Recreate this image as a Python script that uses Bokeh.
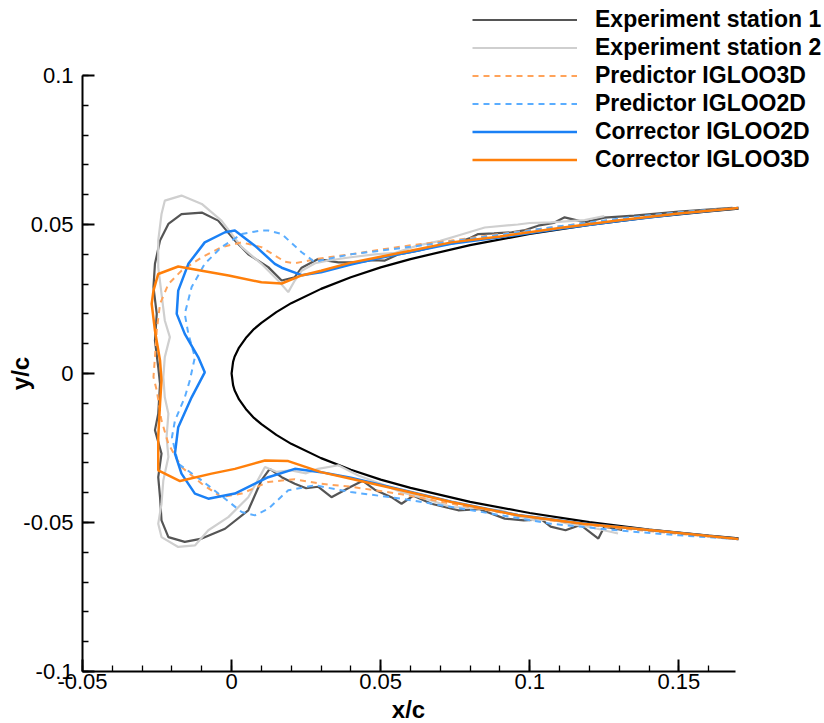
import numpy as np
from bokeh.plotting import figure
from bokeh.models import Range1d, FixedTicker, Legend, LegendItem, Label
from bokeh.embed import file_html
from bokeh.resources import INLINE

# ---------------- data ----------------
AIRFOIL_X = [0.17, 0.16, 0.14, 0.12, 0.10, 0.08, 0.06, 0.05, 0.04, 0.03, 0.02, 0.015, 0.01, 0.0075,
             0.005, 0.0025, 0.001, 0.0005, 0.0,
             0.0005, 0.001, 0.0025, 0.005, 0.0075, 0.01, 0.015, 0.02, 0.03, 0.04, 0.05, 0.06, 0.08,
             0.10, 0.12, 0.14, 0.16, 0.17]
AIRFOIL_Y = [0.0553, 0.0544, 0.0524, 0.0499, 0.0468, 0.0431, 0.0384, 0.0356, 0.0323, 0.0284, 0.0236,
             0.0206, 0.0170, 0.0149, 0.0122, 0.0087, 0.0056, 0.0039, 0.0,
             -0.0039, -0.0056, -0.0087, -0.0122, -0.0149, -0.0170, -0.0206, -0.0236, -0.0284, -0.0323,
             -0.0356, -0.0384, -0.0431, -0.0468, -0.0499, -0.0524, -0.0544, -0.0553]

EXP1_X = [0.168, 0.15, 0.135, 0.125, 0.1184, 0.1162, 0.1117, 0.108, 0.1028, 0.098, 0.0939, 0.088,
          0.0827, 0.080, 0.076, 0.0693, 0.0626, 0.056, 0.0514, 0.047, 0.0425, 0.0358, 0.029, 0.0235,
          0.0212, 0.0168, 0.0123, 0.0056, 0.0011, -0.0045, -0.010, -0.0168, -0.0212, -0.024, -0.0257,
          -0.0262, -0.0251, -0.0257, -0.0246, -0.024, -0.0246, -0.0257, -0.0235, -0.0246, -0.024,
          -0.0235, -0.0212, -0.0157, -0.010, -0.0022, 0.0056, 0.010, 0.0128, 0.0168, 0.0212, 0.025,
          0.029, 0.0335, 0.040, 0.044, 0.048, 0.0536, 0.057, 0.061, 0.067, 0.076, 0.083, 0.0916,
          0.098, 0.104, 0.107, 0.112, 0.117, 0.123, 0.125, 0.131]
EXP1_Y = [0.0556, 0.0543, 0.0530, 0.0523, 0.0507, 0.0513, 0.0524, 0.0505, 0.0496, 0.0480, 0.0474,
          0.0470, 0.0468, 0.0455, 0.0440, 0.0429, 0.0412, 0.0400, 0.0379, 0.0380, 0.0373, 0.0373,
          0.0384, 0.0355, 0.0323, 0.0312, 0.0357, 0.0400, 0.0446, 0.0513, 0.0540, 0.0535, 0.0502,
          0.0446, 0.0368, 0.0290, 0.0200, 0.0110, 0.0021, -0.0035, -0.0135, -0.0190, -0.0269,
          -0.0348, -0.0415, -0.0493, -0.0549, -0.0565, -0.0554, -0.0521, -0.0459, -0.0359, -0.0320,
          -0.0348, -0.0370, -0.0385, -0.0380, -0.0415, -0.0380, -0.0360, -0.0390, -0.0415, -0.0437,
          -0.0410, -0.0437, -0.0459, -0.0455, -0.0487, -0.0493, -0.0490, -0.0514, -0.0526, -0.0508,
          -0.0554, -0.0514, -0.0525]

EXP2_X = [0.125, 0.1184, 0.107, 0.100, 0.096, 0.0849, 0.076, 0.070, 0.0626, 0.055, 0.048, 0.040,
          0.033, 0.028, 0.0235, 0.0212, 0.019, 0.0156, 0.010, 0.0034, -0.0034, -0.010, -0.0168,
          -0.0224, -0.0235, -0.0246, -0.0246, -0.0235, -0.0224, -0.0207, -0.0224, -0.0229, -0.0224,
          -0.0212, -0.0218, -0.0212, -0.0229, -0.0235, -0.0246, -0.0235, -0.0179, -0.0123, -0.0078,
          -0.0011, 0.0056, 0.010, 0.0112, 0.015, 0.020, 0.025, 0.029, 0.0358, 0.0425, 0.050, 0.057,
          0.065, 0.0737, 0.082, 0.0905, 0.096, 0.1017, 0.107, 0.1128, 0.120, 0.1296]
EXP2_Y = [0.0528, 0.0515, 0.0507, 0.0505, 0.0500, 0.0490, 0.0463, 0.0445, 0.0430, 0.0405, 0.0400,
          0.0390, 0.0380, 0.0370, 0.0345, 0.0312, 0.0273, 0.0312, 0.0368, 0.0424, 0.0513, 0.0569,
          0.0597, 0.0580, 0.0535, 0.0446, 0.0357, 0.0267, 0.0178, 0.0122, 0.0055, -0.0012, -0.0080,
          -0.0135, -0.0214, -0.0280, -0.0359, -0.0437, -0.0504, -0.0549, -0.0582, -0.0577, -0.0526,
          -0.0482, -0.0415, -0.0336, -0.0314, -0.0330, -0.0325, -0.0335, -0.0320, -0.0308, -0.0342,
          -0.0370, -0.0398, -0.0420, -0.0448, -0.0452, -0.0459, -0.0480, -0.0493, -0.0490, -0.0504,
          -0.0515, -0.0537]

PRED3D_X = [0.17, 0.15, 0.13, 0.107, 0.09, 0.0737, 0.06, 0.0514, 0.04, 0.029, 0.0212, 0.0179, 0.010,
            0.0034, -0.0034, -0.010, -0.0168, -0.0212, -0.024, -0.0251, -0.0257, -0.0262, -0.0251,
            -0.0235, -0.0212, -0.0168, -0.010, -0.0034, 0.0034, 0.0123, 0.0212, 0.030, 0.040, 0.057,
            0.0737, 0.09, 0.107, 0.13, 0.15, 0.17]
PRED3D_Y = [0.0556, 0.0540, 0.0518, 0.0490, 0.0468, 0.0446, 0.0430, 0.0418, 0.0400, 0.0385, 0.0370,
            0.0375, 0.0424, 0.0440, 0.0424, 0.0390, 0.0345, 0.0300, 0.0234, 0.0144, 0.0055, -0.0012,
            -0.0057, -0.0158, -0.0236, -0.0314, -0.0370, -0.0415, -0.0403, -0.0364, -0.0355, -0.0370,
            -0.0380, -0.0405, -0.0437, -0.0466, -0.0493, -0.0520, -0.0538, -0.0556]

PRED2D_X = [0.17, 0.15, 0.13, 0.107, 0.09, 0.0737, 0.06, 0.040, 0.030, 0.028, 0.0235, 0.0168, 0.0123,
            0.010, 0.0034, -0.0034, -0.009, -0.0134, -0.0157, -0.0145, -0.0123, -0.014, -0.0157,
            -0.019, -0.020, -0.0179, -0.010, -0.0022, 0.0034, 0.0078, 0.0123, 0.019, 0.028, 0.040,
            0.057, 0.0737, 0.09, 0.107, 0.13, 0.15, 0.17]
PRED2D_Y = [0.0556, 0.0541, 0.0520, 0.0490, 0.0466, 0.0443, 0.0425, 0.0400, 0.0380, 0.0373, 0.0407,
            0.0468, 0.0480, 0.0480, 0.0468, 0.0424, 0.0368, 0.0290, 0.0200, 0.0133, 0.0055, -0.0023,
            -0.0080, -0.0158, -0.0214, -0.0303, -0.0359, -0.0420, -0.0465, -0.0476, -0.0454, -0.0392,
            -0.0375, -0.0398, -0.0420, -0.0448, -0.0475, -0.0504, -0.0527, -0.0543, -0.0556]

CORR2D_X = [0.17, 0.15, 0.13, 0.11, 0.09, 0.0737, 0.06, 0.05, 0.04, 0.03, 0.0235, 0.0168, 0.0145,
            0.0078, 0.0011, -0.0022, -0.009, -0.0145, -0.0179, -0.0184, -0.0157, -0.0112, -0.009,
            -0.0134, -0.0179, -0.019, -0.0168, -0.0123, -0.0078, 0.0011, 0.0123, 0.0212, 0.030, 0.040,
            0.057, 0.0737, 0.096, 0.118, 0.141, 0.17]
CORR2D_Y = [0.0555, 0.0535, 0.0512, 0.0486, 0.0457, 0.0435, 0.0408, 0.0388, 0.0366, 0.0340, 0.0330,
            0.0355, 0.0368, 0.0429, 0.0480, 0.0474, 0.0440, 0.0368, 0.0278, 0.0200, 0.0133, 0.0055,
            0.0004, -0.0080, -0.0180, -0.0269, -0.0336, -0.0403, -0.0420, -0.0403, -0.0348, -0.0320,
            -0.0331, -0.0350, -0.0390, -0.0430, -0.0475, -0.0503, -0.0526, -0.0555]

CORR3D_X = [0.17, 0.15, 0.13, 0.11, 0.09, 0.0737, 0.06, 0.05, 0.04, 0.03, 0.0235, 0.0168, 0.010,
            -0.001, -0.010, -0.0179, -0.0246, -0.0262, -0.0268, -0.0257, -0.024, -0.0235, -0.024,
            -0.0246, -0.0246, -0.0173, -0.0067, 0.0011, 0.0112, 0.019, 0.030, 0.040, 0.057, 0.0737,
            0.096, 0.118, 0.141, 0.17]
CORR3D_Y = [0.0555, 0.0537, 0.0514, 0.0488, 0.0460, 0.0440, 0.0412, 0.0392, 0.0372, 0.0345, 0.0329,
            0.0302, 0.0306, 0.0329, 0.0345, 0.0359, 0.0334, 0.0278, 0.0234, 0.0144, 0.0044, -0.0023,
            -0.0102, -0.0214, -0.0325, -0.0361, -0.0336, -0.0320, -0.0292, -0.0294, -0.0331, -0.0353,
            -0.0392, -0.0431, -0.0476, -0.0504, -0.0526, -0.0555]

X_TICKS = [-0.05, 0.0, 0.05, 0.1, 0.15]
X_TICK_LABELS = ["-0.05", "0", "0.05", "0.1", "0.15"]
Y_TICKS = [-0.1, -0.05, 0.0, 0.05, 0.1]
Y_TICK_LABELS = ["-0.1", "-0.05", "0", "0.05", "0.1"]

SERIES = ["Experiment station 1", "Experiment station 2", "Predictor IGLOO3D",
          "Predictor IGLOO2D", "Corrector IGLOO2D", "Corrector IGLOO3D"]

# ---------------- figure ----------------
# The frame fills the whole canvas; the axes sit at fixed data locations inside it.
FONT = "Liberation Sans"
W, H = 824, 723
AX_L, AX_R, AX_T, AX_B = 82, 735, 75, 671          # axis box in canvas pixels
X0, X1, Y0, Y1 = -0.05, 0.169, -0.1, 0.1
sx = (AX_R - AX_L) / (X1 - X0)
sy = (AX_B - AX_T) / (Y1 - Y0)
x_range = Range1d(X0 - AX_L / sx, X1 + (W - AX_R) / sx)
y_range = Range1d(Y0 - (H - AX_B) / sy, Y1 + AX_T / sy)

p = figure(width=W, height=H, output_backend="svg", toolbar_location=None,
           x_range=x_range, y_range=y_range, min_border=0)
p.outline_line_color = None
p.xgrid.visible = False
p.ygrid.visible = False
p.background_fill_color = "white"
p.border_fill_color = "white"

p.xaxis.fixed_location = Y0
p.yaxis.fixed_location = X0
p.xaxis.bounds = (X0, X1)
p.yaxis.bounds = (Y0, Y1)

x_minor = [round(v, 3) for v in np.arange(-0.05, 0.1695, 0.01)]
y_minor = [round(v, 3) for v in np.arange(-0.1, 0.1005, 0.01)]
p.xaxis.ticker = FixedTicker(ticks=X_TICKS, minor_ticks=x_minor)
p.yaxis.ticker = FixedTicker(ticks=Y_TICKS, minor_ticks=y_minor)
p.xaxis.major_label_overrides = dict(zip(X_TICKS, X_TICK_LABELS))
p.yaxis.major_label_overrides = dict(zip(Y_TICKS, Y_TICK_LABELS))

for ax in (p.xaxis[0], p.yaxis[0]):
    ax.axis_line_width = 2
    ax.axis_line_color = "black"
    ax.major_tick_line_width = 2
    ax.major_tick_line_color = "black"
    ax.major_tick_in = 12
    ax.major_tick_out = 0
    ax.minor_tick_line_width = 1.3
    ax.minor_tick_line_color = "black"
    ax.minor_tick_in = 6
    ax.minor_tick_out = 0
    ax.major_label_text_font = FONT
    ax.major_label_text_font_size = "22px"
    ax.major_label_text_color = "black"
p.xaxis.major_label_standoff = 2
p.yaxis.major_label_standoff = 9

# ---------------- lines ----------------
p.line(AIRFOIL_X, AIRFOIL_Y, line_color="black", line_width=2.2)
r1 = p.line(EXP1_X, EXP1_Y, line_color="#555555", line_width=2.2)
r2 = p.line(EXP2_X, EXP2_Y, line_color="#cfcfcf", line_width=2.2)
r3 = p.line(PRED3D_X, PRED3D_Y, line_color="#ffa35a", line_width=2, line_dash="6 5")
r4 = p.line(PRED2D_X, PRED2D_Y, line_color="#5aadff", line_width=2, line_dash="6 5")
r5 = p.line(CORR2D_X, CORR2D_Y, line_color="#1a80f5", line_width=2.5)
r6 = p.line(CORR3D_X, CORR3D_Y, line_color="#ff7f0a", line_width=2.5)

items = [LegendItem(label=s, renderers=[r]) for s, r in zip(SERIES, [r1, r2, r3, r4, r5, r6])]
legend = Legend(items=items, location=(472, 550), orientation="vertical",
                glyph_width=105, glyph_height=27, label_height=27, label_standoff=18,
                spacing=1, padding=0, margin=0,
                label_text_font=FONT, label_text_font_size="23px", label_text_font_style="bold",
                label_text_color="black",
                border_line_color=None, background_fill_alpha=0.0)
p.add_layout(legend, "center")

p.add_layout(Label(x=408, y=H - 709, x_units="screen", y_units="screen", text="x/c",
                   text_font=FONT, text_font_size="24px", text_font_style="bold",
                   text_color="black", text_align="center", text_baseline="middle"))
p.add_layout(Label(x=20, y=H - 373, x_units="screen", y_units="screen", text="y/c", angle=np.pi / 2,
                   text_font=FONT, text_font_size="24px", text_font_style="bold",
                   text_color="black", text_align="center", text_baseline="middle"))

open("out.html", "w").write(file_html(p, INLINE))
